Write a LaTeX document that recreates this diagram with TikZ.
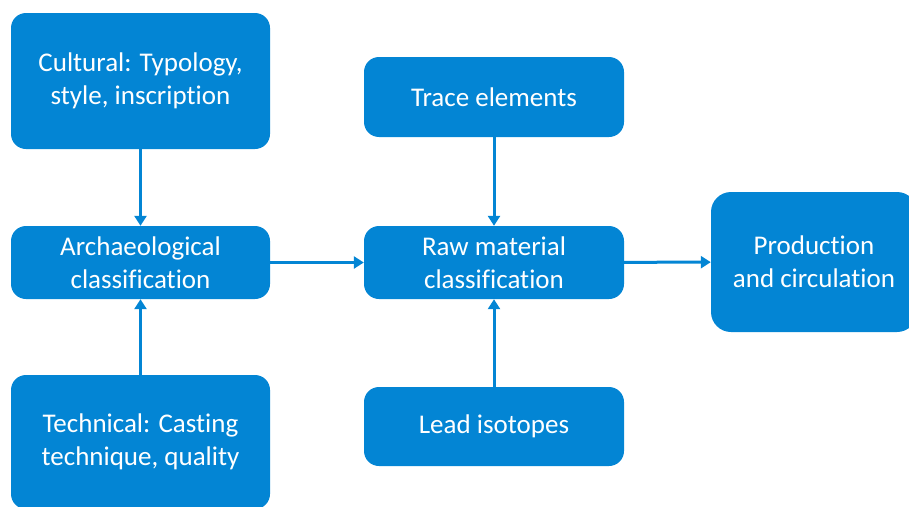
\documentclass[tikz,border=0pt]{standalone}
\usepackage{fontspec}
\setmainfont[Ligatures=NoCommon]{Carlito}
\usetikzlibrary{arrows.meta}
\definecolor{boxblue}{RGB}{3,133,212}
\begin{document}
\begin{tikzpicture}[x=1pt,y=-1pt,
  box/.style={fill=boxblue, draw=none, rounded corners=15pt, text=white, align=center,
    font=\fontsize{27}{33}\selectfont, inner sep=0pt},
  conn/.style={draw=boxblue, line width=3pt, -{Triangle[length=10pt,width=12pt]}}]
\useasboundingbox (0,0) rectangle (909,506);
\node[box, minimum width=259pt, minimum height=136pt] (cult) at (140.5,81) {Cultural: Typology,\\style, inscription};
\node[box, minimum width=259pt, minimum height=73pt] (arch) at (140.5,262.5) {Archaeological\\classification};
\node[box, minimum width=259pt, minimum height=134pt] (tech) at (140.5,442) {Technical: Casting\\technique, quality};
\node[box, minimum width=260pt, minimum height=80pt] (trace) at (494,97) {Trace elements};
\node[box, minimum width=260pt, minimum height=73pt] (raw) at (494,262.5) {Raw material\\classification};
\node[box, minimum width=260pt, minimum height=79pt] (lead) at (494,426.5) {Lead isotopes};
\node[box, minimum width=206pt, minimum height=140pt, rounded corners=20pt] (prod) at (814,262) {Production\\and circulation};
\draw[conn] (cult) -- (arch);
\draw[conn] (tech) -- (arch);
\draw[conn] (arch) -- (raw);
\draw[conn] (trace) -- (raw);
\draw[conn] (lead) -- (raw);
\draw[conn] (raw) -- (prod);
\end{tikzpicture}
\end{document}
